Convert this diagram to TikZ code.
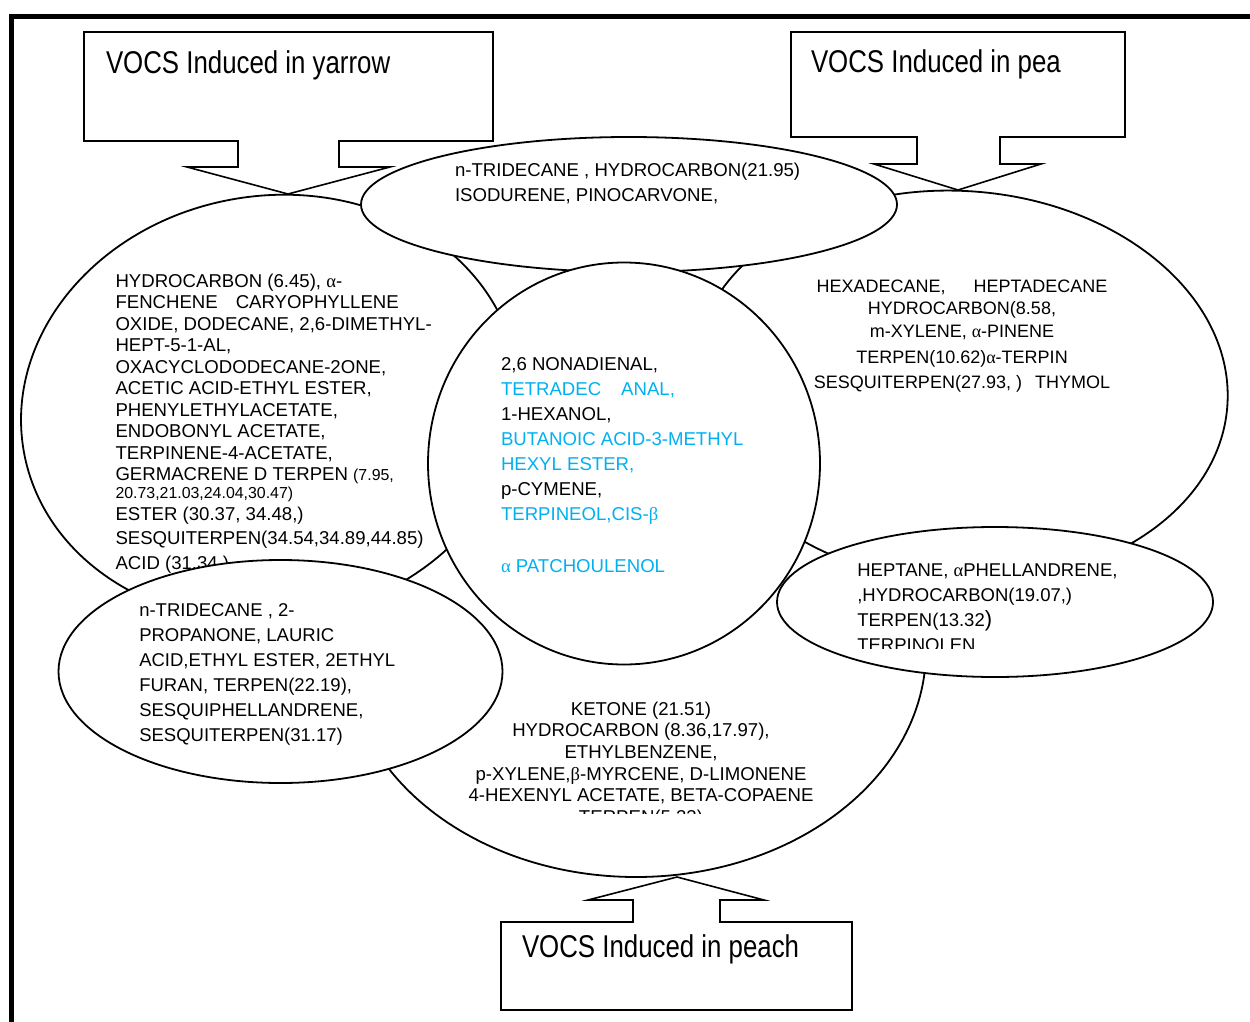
\documentclass[tikz,border=0pt]{standalone}
\usepackage{fontspec}
\setmainfont{Liberation Sans}
\newfontfamily\grk{Liberation Serif}
\newfontfamily\narrowf[FakeStretch=0.82]{Liberation Sans}
\usetikzlibrary{shapes.geometric}
\definecolor{lblue}{RGB}{0,176,240}
\newcommand{\ga}{{\grk α}}
\newcommand{\gb}{{\grk β}}
\newcommand{\smf}{\fontsize{15.9}{17}\selectfont}
\tikzset{
  shp/.style={ellipse, draw=black, line width=1.8pt, fill=white, inner sep=0pt, outer sep=0pt},
  txt/.style={inner sep=0pt, outer sep=0pt, font=\fontsize{18.6}{21.5}\selectfont},
  callout/.style={draw=black, line width=1.6pt, fill=white, line join=miter},
  title/.style={inner sep=0pt, outer sep=0pt, anchor=base west, font=\narrowf\fontsize{31.5}{36}\selectfont},
}
\begin{document}
\begin{tikzpicture}[x=1pt,y=-1pt]
\useasboundingbox (0,0) rectangle (1250,1022);
\fill[white] (0,0) rectangle (1250,1022);
% frame
\draw[line width=5pt, line join=miter] (11.7,1040) -- (11.7,16.5) -- (1270,16.5);

% callouts
\draw[callout] (84,32) -- (493,32) -- (493,141) -- (339,141) -- (339,167) -- (390,167) -- (288,194) -- (187,167) -- (238,167) -- (238,141) -- (84,141) -- cycle;
\node[title] (tyarrow) at (106,74) {VOCS Induced in yarrow};
\draw[callout] (791,32) -- (1125,32) -- (1125,137) -- (1000,137) -- (1000,164) -- (1041,164) -- (958,190) -- (874,164) -- (917,164) -- (917,137) -- (791,137) -- cycle;
\node[title] (tpea) at (811,73) {VOCS Induced in pea};
\draw[callout] (501,922) -- (633,922) -- (633,900) -- (588,900) -- (677,877) -- (764,900) -- (720,900) -- (720,922) -- (852,922) -- (852,1010) -- (501,1010) -- cycle;
\node[title] (tpeach) at (522,957) {VOCS Induced in peach};

% peach ellipse
\node[shp, minimum width=580pt, minimum height=454pt] (peachE) at (636,650) {};
\begin{scope}
\clip (400,680) rectangle (900,813);
\node[txt, font=\fontsize{18.6}{21.7}\selectfont, align=center, anchor=base] (peachT) at (641,823.5) {KETONE (21.51)\\HYDROCARBON (8.36,17.97),\\ETHYLBENZENE,\\p-XYLENE,\gb-MYRCENE, D-LIMONENE\\4-HEXENYL ACETATE, BETA-COPAENE\\TERPEN(5.23)};
\end{scope}

% yarrow ellipse
\node[shp, minimum width=500pt, minimum height=424pt, rotate=10] (yarrowE) at (270,408) {};
\node[txt, align=left, anchor=base west] (yarrowT) at (115.5,569.3) {HYDROCARBON (6.45), \ga-\\FENCHENE\hspace{18pt}CARYOPHYLLENE\\OXIDE, DODECANE, 2,6-DIMETHYL-\\HEPT-5-1-AL,\\OXACYCLODODECANE-2ONE,\\ACETIC ACID-ETHYL ESTER,\\PHENYLETHYLACETATE,\\ENDOBONYL ACETATE,\\TERPINENE-4-ACETATE,\\GERMACRENE D TERPEN {\smf(7.95,}\\[-3.9pt]{\smf 20.73,21.03,24.04,30.47)}\\[0.2pt]ESTER (30.37, 34.48,)\\[2.8pt]SESQUITERPEN(34.54,34.89,44.85)\\[3.5pt]ACID (31.34 )};

% pea ellipse
\node[shp, minimum width=536pt, minimum height=392pt, rotate=-4] (peaE) at (960,387) {};
\node[txt, font=\fontsize{18}{22.5}\selectfont, align=center, anchor=base] (peaT) at (962,388) {HEXADECANE,\hspace{28pt}HEPTADECANE\\HYDROCARBON(8.58,\\m-XYLENE, \ga-PINENE\\[3.5pt]TERPEN(10.62)\ga-TERPIN\\[2.5pt]SESQUITERPEN(27.93, )\hspace{13pt}THYMOL};

% top ellipse
\node[shp, minimum width=536pt, minimum height=135pt] (topE) at (629,204.5) {};
\node[txt, font=\fontsize{18.6}{25}\selectfont, align=left, anchor=base west] (topT) at (455,201) {n-TRIDECANE , HYDROCARBON(21.95)\\ISODURENE, PINOCARVONE,};

% centre circle
\node[shp, minimum width=392pt, minimum height=402pt] (centerE) at (624,463.5) {};
\node[txt, font=\fontsize{18.6}{25}\selectfont, align=left, anchor=base west] (centerT) at (501,572.7) {2,6 NONADIENAL,\\\textcolor{lblue}{TETRADEC\hspace{20pt}ANAL,}\\1-HEXANOL,\\\textcolor{lblue}{BUTANOIC ACID-3-METHYL}\\\textcolor{lblue}{HEXYL ESTER,}\\p-CYMENE,\\\textcolor{lblue}{TERPINEOL,CIS-\gb}\\[27.7pt]\textcolor{lblue}{\ga{} PATCHOULENOL}};

% lower left ellipse
\node[shp, minimum width=444pt, minimum height=223pt] (llE) at (280.5,671.5) {};
\node[txt, font=\fontsize{18.5}{24.9}\selectfont, align=left, anchor=base west] (llT) at (139.3,741.2) {n-TRIDECANE , 2-\\PROPANONE, LAURIC\\ACID,ETHYL ESTER, 2ETHYL\\FURAN, TERPEN(22.19),\\SESQUIPHELLANDRENE,\\SESQUITERPEN(31.17)};

% small right ellipse
\node[shp, minimum width=436pt, minimum height=150pt] (srE) at (995,602) {};
\begin{scope}
\clip (840,550) rectangle (1200,648);
\node[txt, font=\fontsize{18.5}{25}\selectfont, align=left, anchor=base west] (srT) at (857.3,651.8) {HEPTANE, \ga PHELLANDRENE,\\,HYDROCARBON(19.07,)\\TERPEN(13.32{\fontsize{22}{25}\selectfont)}\\TERPINOLEN};
\end{scope}
\end{tikzpicture}
\end{document}
